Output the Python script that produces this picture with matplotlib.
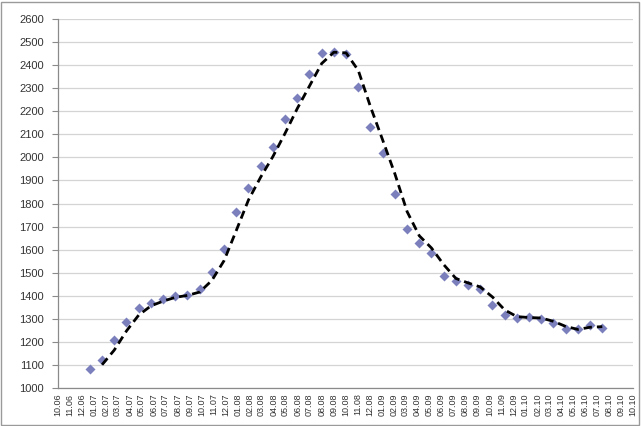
import pandas as pd
import matplotlib
matplotlib.use("Agg")
from matplotlib import pyplot as plt
from matplotlib import dates as mdates
from matplotlib.patches import Rectangle

# monthly-ish observations, ~31 days apart
first_obs = "2006-12-21"
values = [
    1081, 1121, 1208, 1287, 1345, 1367, 1386, 1400, 1403, 1429,
    1504, 1601, 1765, 1866, 1963, 2044, 2165, 2259, 2360, 2454,
    2458, 2448, 2306, 2133, 2017, 1840, 1690, 1630, 1584, 1486,
    1464, 1447, 1429, 1360, 1317, 1302, 1309, 1298, 1280, 1254,
    1254, 1273, 1259,
]
axis_start = "2006-10-01"
axis_end = "2010-10-01"
y_ticks = list(range(1000, 2700, 100))

CLR_POINT = "#7b80bd"
CLR_GRID = "#d4d4d4"
CLR_AXIS = "#8a8a8a"

dates = pd.date_range(first_obs, periods=len(values), freq="31D")
series = pd.Series(values, index=dates)
trend = series.rolling(2).mean()

plt.rcParams["font.family"] = ["Liberation Sans", "DejaVu Sans"]

fig = plt.figure(figsize=(6.41, 4.26), dpi=100)
ax = fig.add_axes([58 / 641, 38 / 426, 575 / 641, 369 / 426])

ax.plot(series.index, series.values, ls="none", marker="D", ms=5.5,
        color=CLR_POINT, mec="none", zorder=2)
ax.plot(trend.index, trend.values, color="black", lw=2.0,
        dashes=(3, 1.8), zorder=3)

ax.set_ylim(1000, 2600)
ax.set_yticks(y_ticks)
ax.yaxis.grid(True, color=CLR_GRID, lw=0.9)
ax.set_axisbelow(True)

ax.set_xlim(pd.Timestamp(axis_start), pd.Timestamp(axis_end))
ax.xaxis.set_major_locator(mdates.MonthLocator())
ax.xaxis.set_major_formatter(mdates.DateFormatter("%m.%y"))
plt.setp(ax.get_xticklabels(), rotation=90, fontsize=6.5, color="#333333")
plt.setp(ax.get_yticklabels(), fontsize=8, color="#333333")
ax.tick_params(axis="x", length=0, pad=4)
ax.tick_params(axis="y", length=4, color=CLR_AXIS, pad=6)

for side in ("top", "right"):
    ax.spines[side].set_visible(False)
for side in ("left", "bottom"):
    ax.spines[side].set_color(CLR_AXIS)
    ax.spines[side].set_linewidth(0.9)

fig.patches.append(Rectangle((0.002, 0.003), 0.995, 0.993, transform=fig.transFigure,
                             fill=False, ec="#9a9a9a", lw=1.0))

fig.savefig("out.png", dpi=100)
